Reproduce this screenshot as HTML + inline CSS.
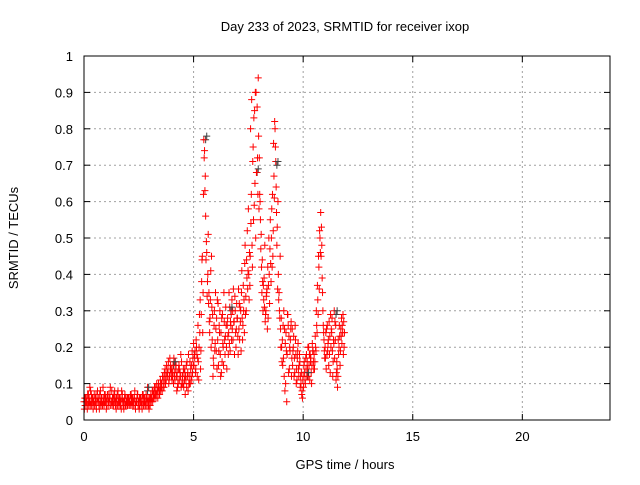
<!DOCTYPE html>
<html><head><meta charset="utf-8"><style>
body{margin:0;background:#fff}
svg text{font-family:"Liberation Sans",sans-serif;font-size:13px;fill:#000}
</style></head><body>
<svg id="chart" width="640" height="480" xmlns="http://www.w3.org/2000/svg">
<rect width="640" height="480" fill="#fff"/>
<g id="grid"></g><g id="marks"></g><g id="axes"></g>
</svg>
<script>
const xTicks=[0,5,10,15,20];
const yTicks=[0,0.1,0.2,0.3,0.4,0.5,0.6,0.7,0.8,0.9,1];
const yTickLabels=["0","0.1","0.2","0.3","0.4","0.5","0.6","0.7","0.8","0.9","1"];
const times=[];
for(let i=0;i<240;i++){times.push(+(i*0.05).toFixed(2));}
const v1=[.05,.04,.06,.03,.07,.05,.08,.04,.06,.05,.04,.07,.05,.06,.03,.08,.05,.04,.06,.05,.06,.04,.07,.05,.09,.05,.06,.04,.08,.05,.05,.08,.04,.06,.03,.07,.05,.06,.04,.05,.04,.06,.05,.07,.04,.05,.06,.03,.05,.07,.05,.04,.06,.03,.07,.05,.04,.06,.09,.05,
.05,.07,.06,.08,.06,.09,.07,.08,.10,.07,.08,.10,.12,.09,.14,.11,.13,.16,.12,.15,.14,.12,.17,.11,.15,.13,.10,.14,.12,.16,.12,.09,.14,.11,.16,.08,.12,.10,.15,.13,
.21,.17,.14,.18,.26,.20,.33,.29,.45,.62,.74,.56,.46,.40,.35,.28,.20,.22,.17,.30,.35,.28,.22,.19,.30,.24,.16,.20,.27,.23,.20,.28,.24,.31,.26,.33,.22,.27,.30,.25,
.28,.36,.22,.30,.41,.26,.33,.48,.30,.52,.58,.46,.80,.88,.71,.83,.65,.90,.86,.94,.72,.55,.42,.38,.33,.48,.30,.36,.28,.40,.55,.50,.62,.76,.82,.71,.48,.60,.35,.45,
.28,.22,.17,.25,.10,.05,.29,.23,.19,.27,.25,.20,.17,.22,.14,.19,.12,.16,.10,.08,.12,.16,.10,.18,.14,.20,.11,.17,.15,.19,.18,.23,.30,.37,.45,.52,.57,.48,.30,.22,
.20,.14,.26,.22,.18,.29,.24,.12,.21,.27,.11,.14,.22,.26,.19,.28,.24,.27,null,null];
const v2=[.03,.06,.05,.07,.04,.09,.05,.06,.03,.07,.06,.03,.08,.05,.07,.04,.06,.09,.04,.07,.03,.07,.05,.06,.04,.08,.05,.07,.06,.03,.07,.05,.06,.04,.08,.05,.03,.07,.06,.04,.06,.04,.07,.05,.06,.04,.08,.05,.06,.04,.03,.06,.05,.07,.04,.06,.05,.04,.06,.03,
.04,.05,.08,.06,.09,.07,.10,.06,.08,.09,.10,.08,.11,.13,.10,.15,.12,.10,.17,.13,.11,.15,.13,.16,.12,.09,.14,.11,.18,.10,.10,.13,.07,.15,.12,.18,.10,.14,.11,.17,
.15,.19,.22,.12,.16,.29,.14,.38,.24,.77,.63,.44,.34,.51,.27,.33,.45,.29,.15,.19,.25,.14,.32,.26,.18,.13,.29,.15,.22,.31,.14,.23,.35,.19,.29,.25,.36,.18,.24,.32,
.23,.25,.31,.19,.28,.37,.24,.29,.44,.36,.40,.37,.54,.48,.75,.59,.90,.68,.72,.78,.62,.47,.35,.30,.39,.27,.34,.25,.37,.32,.43,.58,.45,.67,.80,.64,.53,.40,.30,.25,
.20,.15,.30,.08,.24,.18,.26,.14,.22,.12,.15,.23,.13,.18,.11,.21,.15,.09,.13,.06,.09,.13,.17,.12,.20,.15,.18,.13,.21,.16,.14,.20,.26,.33,.42,.50,.45,.39,.26,.19,
.17,.25,.19,.15,.23,.20,.28,.16,.30,.22,.13,.09,.18,.23,.25,.21,.29,.20,null,null];
const v3=[.06,.05,.04,.05,.06,.04,.07,.05,.05,.04,.05,.05,.06,.04,.05,.06,.04,.05,.07,.05,.05,.06,.04,.07,.05,.04,.06,.05,.04,.06,.04,.06,.05,.05,.06,.04,.05,.04,.05,.06,.05,.05,.04,.06,.05,.06,.04,.05,.07,.05,.06,.05,.04,.05,.06,.04,.07,.05,.04,.06,
.06,.06,.05,.07,.07,.06,.08,.09,.07,.11,.09,.12,.09,.11,.12,.13,.14,.11,.14,.12,.13,.10,.12,.14,.08,.11,.15,.13,.09,.12,.14,.11,.12,.09,.13,.10,.16,.12,.19,.15,
.18,.13,.20,.17,.11,.24,.19,.44,.35,.72,.67,.49,.38,.32,.24,.41,.31,.12,.26,.21,.19,.33,.15,.24,.12,.28,.21,.35,.18,.26,.26,.18,.21,.27,.22,.30,.27,.34,.20,.28,
.18,.32,.27,.35,.22,.30,.43,.34,.39,.41,.33,.45,.62,.42,.55,.85,.50,.68,.62,.58,.60,.51,.44,.37,.31,.29,.35,.42,.50,.47,.38,.42,.52,.61,.75,.57,.36,.33,.28,.20,
.16,.26,.12,.21,.19,.29,.13,.20,.25,.17,.19,.12,.26,.10,.17,.14,.18,.12,.07,.11,.15,.11,.14,.16,.12,.18,.16,.10,.19,.14,.16,.19,.24,.29,.36,.46,.53,.35,.24,.17,
.24,.18,.21,.27,.13,.25,.19,.22,.17,.26,.16,.12,.20,.15,.23,.26,.18,.24,null,null];
const darkTimes=[2.9,5.55,7.9,8.8,6.7,10.2,11.5,4.1];
const darkVals=[.09,.78,.69,.71,.31,.13,.30,.16];

const L=84,R=610,T=56,B=420;
const xScale=v=>L+(v/24)*(R-L);
const yScale=v=>B-(v/1)*(B-T);
const NS="http://www.w3.org/2000/svg";
function mk(tag,attrs,parent){const e=document.createElementNS(NS,tag);for(const k in attrs)e.setAttribute(k,attrs[k]);parent.appendChild(e);return e;}
const grid=document.getElementById('grid'),marks=document.getElementById('marks'),axes=document.getElementById('axes');
xTicks.forEach((t,i)=>{
  const x=xScale(t);
  if(i>0){const g=mk('line',{x1:x,x2:x,y1:T,y2:B,stroke:'#a0a0a0','stroke-dasharray':'2,3'},grid);
  
  }
  mk('line',{x1:x,x2:x,y1:B,y2:B-6,stroke:'#000'},axes);
  mk('line',{x1:x,x2:x,y1:T,y2:T+6,stroke:'#000'},axes);
  const tx=mk('text',{x:x,y:441,'text-anchor':'middle'},axes);tx.textContent=String(t);
  
  
});
yTicks.forEach((t,i)=>{
  const y=yScale(t);
  if(i>0&&i<yTicks.length-1){const g=mk('line',{x1:L,x2:R,y1:y,y2:y,stroke:'#a0a0a0','stroke-dasharray':'2,3'},grid);
  
  }
  mk('line',{x1:L,x2:L+6,y1:y,y2:y,stroke:'#000'},axes);
  mk('line',{x1:R,x2:R-6,y1:y,y2:y,stroke:'#000'},axes);
  const tx=mk('text',{x:73,y:y+5,'text-anchor':'end'},axes);tx.textContent=yTickLabels[i];
  
  
});
const fr=mk('rect',{x:L,y:T,width:R-L,height:B-T,fill:'none',stroke:'#000'},axes);


function cross(t,v,color){
  if(v===null||v===undefined)return;
  const x=xScale(t),y=yScale(v);
  const p=mk('path',{d:`M${x-3.5} ${y}H${x+3.5}M${x} ${y-3.5}V${y+3.5}`,stroke:color,'stroke-width':1,fill:'none'},marks);
  
  
}
darkTimes.forEach((t,i)=>cross(t,darkVals[i]-0.01,'#404040'));
[v1,v2,v3].forEach((arr,k)=>arr.forEach((v,i)=>cross(times[i]+k*0.017,v,'#ff0000')));
darkTimes.forEach((t,i)=>cross(t+0.05,darkVals[i],'#404040'));
const title=mk('text',{x:345,y:31,'text-anchor':'middle'},axes);title.textContent='Day 233 of 2023, SRMTID for receiver ixop';


const xt=mk('text',{x:345,y:469,'text-anchor':'middle'},axes);xt.textContent='GPS time / hours';


const yt=mk('text',{x:0,y:0,'text-anchor':'middle',transform:'translate(18,238) rotate(-90)'},axes);yt.textContent='SRMTID / TECUs';


</script>
</body></html>
